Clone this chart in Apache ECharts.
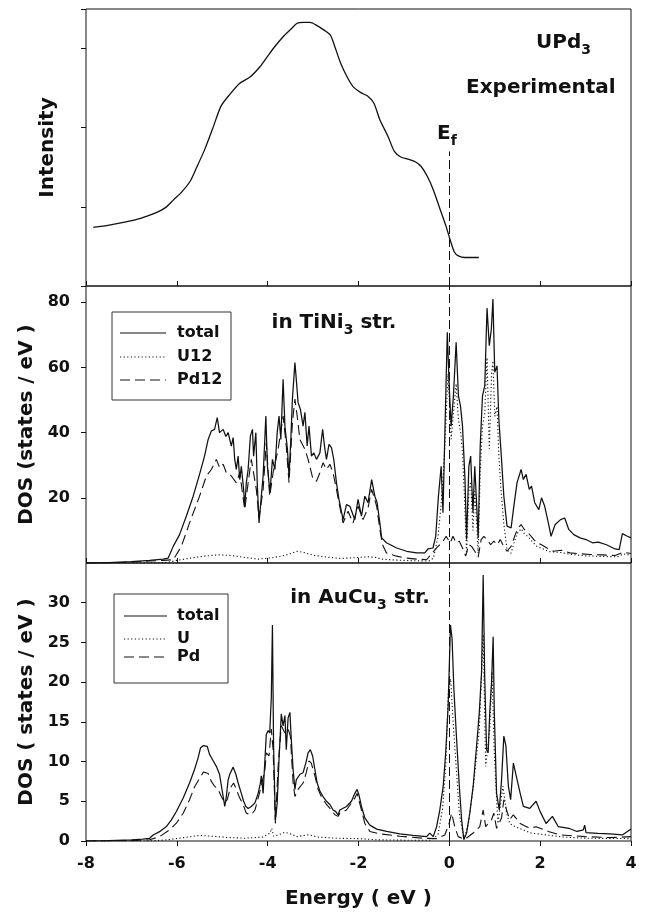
<!DOCTYPE html>
<html>
<head>
<meta charset="utf-8">
<script src="https://cdn.jsdelivr.net/npm/echarts@6/dist/echarts.min.js"></script>
<style>
  html, body { margin: 0; padding: 0; background: #fff; }
  #chart { width: 647px; height: 916px; }
</style>
</head>
<body>
<div id="chart"></div>
<script>
// photoemission spectrum, UPd3 (energy eV, intensity arb. units)
const expIntensity = [
  [-7.84, 0.74], [-7.49, 0.77], [-7.12, 0.81], [-6.8, 0.855], [-6.48, 0.92], [-6.25, 0.99],
  [-6.07, 1.09], [-5.89, 1.19], [-5.71, 1.32], [-5.57, 1.49], [-5.39, 1.72], [-5.21, 1.99],
  [-5.03, 2.27], [-4.85, 2.41], [-4.62, 2.56], [-4.39, 2.64], [-4.17, 2.77], [-3.98, 2.92],
  [-3.85, 3.02], [-3.66, 3.15], [-3.48, 3.25], [-3.35, 3.32], [-3.21, 3.33], [-3.07, 3.33],
  [-2.94, 3.30], [-2.75, 3.23], [-2.62, 3.17], [-2.53, 3.04], [-2.39, 2.81], [-2.25, 2.64],
  [-2.12, 2.52], [-1.94, 2.44], [-1.8, 2.40], [-1.66, 2.31], [-1.53, 2.10], [-1.35, 1.89],
  [-1.21, 1.70], [-1.07, 1.63], [-0.89, 1.60], [-0.75, 1.57], [-0.62, 1.51], [-0.48, 1.38],
  [-0.35, 1.21], [-0.21, 0.98], [-0.07, 0.75], [0.02, 0.58], [0.11, 0.43], [0.2, 0.38],
  [0.34, 0.36], [0.65, 0.36]
];

// DOS in TiNi3 structure
const tiTotal = [
  [-8, 0], [-7.5, 0.15], [-7, 0.4], [-6.6, 0.8], [-6.3, 1.2], [-6.19, 1.5], [-6.08, 5.1], [-5.94, 8.7],
  [-5.79, 14.4], [-5.64, 20.5], [-5.5, 27.2], [-5.39, 32.8], [-5.31, 37.9], [-5.24, 40.5], [-5.17, 41],
  [-5.11, 44.6], [-5.06, 40], [-4.98, 41], [-4.92, 38.8], [-4.87, 40], [-4.8, 35.9], [-4.76, 38.5],
  [-4.725, 31.8], [-4.69, 28.7], [-4.65, 32.8], [-4.615, 25.6], [-4.58, 29.7], [-4.53, 22.6], [-4.505, 17.4],
  [-4.47, 24.6], [-4.43, 28.7], [-4.38, 39], [-4.335, 41], [-4.31, 32.8], [-4.26, 40], [-4.23, 24.6],
  [-4.19, 12.3], [-4.14, 20.5], [-4.1, 26.7], [-4.04, 45.1], [-4.005, 29.7], [-3.95, 21.5], [-3.895, 31.8],
  [-3.84, 28.7], [-3.79, 40], [-3.75, 45.1], [-3.71, 37.9], [-3.66, 56.4], [-3.62, 42], [-3.565, 34.9],
  [-3.53, 26.7], [-3.49, 37.9], [-3.455, 50.3], [-3.4, 61.5], [-3.37, 56.4], [-3.33, 49.2], [-3.28, 47.2],
  [-3.22, 42], [-3.18, 46.2], [-3.13, 35.9], [-3.09, 42], [-3.035, 32.8], [-2.985, 33.8], [-2.925, 31.8],
  [-2.85, 33.8], [-2.79, 41], [-2.74, 34.9], [-2.705, 31.8], [-2.65, 36.4], [-2.595, 35.4], [-2.545, 31.8],
  [-2.485, 24.6], [-2.43, 19.5], [-2.34, 13.3], [-2.265, 17.9], [-2.19, 17.4], [-2.08, 13.3], [-2.01, 19.5],
  [-1.935, 14.4], [-1.86, 20.5], [-1.79, 18.5], [-1.71, 25.6], [-1.64, 20.5], [-1.59, 18.5], [-1.53, 12.3],
  [-1.49, 7.7], [-1.385, 6.2], [-1.16, 4.6], [-0.94, 3.6], [-0.72, 3.1], [-0.54, 3.1], [-0.47, 4.3],
  [-0.36, 4.6], [-0.3, 8.2], [-0.24, 20.5], [-0.18, 29.7], [-0.14, 15.4], [-0.07, 56.4], [-0.045, 70.8],
  [0, 53.3], [0.04, 42], [0.09, 51.3], [0.15, 67.7], [0.2, 51.3], [0.245, 48.2], [0.29, 42], [0.345, 25.6],
  [0.38, 7.2], [0.43, 29.7], [0.47, 32.8], [0.52, 15.4], [0.56, 29.7], [0.61, 15.4], [0.635, 7.7],
  [0.68, 35.9], [0.73, 51.3], [0.78, 54.4], [0.83, 78.2], [0.88, 66.7], [0.925, 71.8], [0.96, 81],
  [1, 58.5], [1.05, 60.5], [1.09, 44.1], [1.14, 33.8], [1.2, 20.5], [1.27, 11.3], [1.36, 10.8],
  [1.42, 17.4], [1.49, 24.6], [1.58, 28.7], [1.63, 25.6], [1.69, 27.2], [1.76, 22.6], [1.81, 23.6],
  [1.88, 18.5], [1.97, 16.4], [2.03, 20], [2.1, 17.4], [2.18, 12.3], [2.24, 8.2], [2.33, 11.8],
  [2.45, 13.3], [2.54, 13.8], [2.63, 10.3], [2.74, 8.7], [2.88, 7.7], [3.01, 7.2], [3.15, 6.2],
  [3.28, 6.4], [3.46, 5.6], [3.65, 4.3], [3.74, 4.1], [3.81, 9], [3.92, 8.2], [4, 7.7]
];
const tiU12 = [
  [-8, 0], [-6.5, 0], [-6.2, 0.2], [-6, 0.8], [-5.7, 1.5], [-5.4, 2.1], [-5.1, 2.5], [-4.8, 2.3],
  [-4.5, 1.7], [-4.2, 1.2], [-3.9, 1.6], [-3.6, 2.4], [-3.35, 3.6], [-3.2, 3.2], [-3, 2.4], [-2.7, 1.8],
  [-2.4, 1.4], [-2.1, 1.6], [-1.8, 1.9], [-1.6, 1.7], [-1.5, 1.2], [-1.2, 0.9], [-0.8, 0.7], [-0.45, 0.6],
  [-0.35, 1.5], [-0.25, 8], [-0.18, 18], [-0.12, 30], [-0.07, 45], [-0.03, 58], [0, 50], [0.04, 38],
  [0.09, 46], [0.15, 55], [0.2, 44], [0.25, 40], [0.29, 34], [0.34, 18], [0.38, 3], [0.43, 22],
  [0.47, 25], [0.52, 10], [0.56, 22], [0.61, 10], [0.635, 3], [0.68, 28], [0.73, 42], [0.78, 46],
  [0.83, 63], [0.88, 35], [0.93, 58], [0.96, 62], [1, 45], [1.05, 48], [1.09, 33], [1.14, 22],
  [1.2, 12], [1.27, 4], [1.36, 3], [1.42, 6], [1.49, 9], [1.58, 10.5], [1.65, 9], [1.74, 8],
  [1.83, 6.5], [1.92, 5.2], [2.03, 4.5], [2.2, 3.5], [2.45, 3.2], [2.7, 2.6], [3, 2.2], [3.4, 2],
  [3.7, 1.9], [3.83, 2.8], [4, 2.4]
];
const tiPd12 = [
  [-8, 0], [-7.5, 0.1], [-7, 0.3], [-6.6, 0.6], [-6.3, 0.8], [-6.08, 1.0], [-5.9, 5.1], [-5.72, 12.3],
  [-5.5, 20.5], [-5.35, 26.7], [-5.24, 28.7], [-5.13, 31.8], [-5.055, 29.2], [-4.98, 30.3], [-4.91, 27.7],
  [-4.8, 26.7], [-4.69, 24.6], [-4.615, 27.7], [-4.505, 16.4], [-4.43, 24.6], [-4.36, 31.8], [-4.25, 22.6],
  [-4.19, 13.8], [-4.1, 22.6], [-4.03, 36.9], [-3.955, 20.5], [-3.88, 27.7], [-3.77, 34.9], [-3.66, 45.1],
  [-3.59, 35.9], [-3.53, 24.6], [-3.455, 43.1], [-3.4, 50.3], [-3.35, 45.1], [-3.29, 37.9], [-3.18, 34.9],
  [-3.11, 31.8], [-3, 25.6], [-2.925, 25.1], [-2.85, 27.7], [-2.78, 30.8], [-2.705, 28.7], [-2.63, 30.3],
  [-2.56, 27.7], [-2.485, 22.6], [-2.43, 18.5], [-2.34, 12.3], [-2.23, 15.9], [-2.12, 12.3], [-2.01, 17.4],
  [-1.9, 13.3], [-1.79, 16.9], [-1.71, 22.6], [-1.6, 17.4], [-1.53, 10.3], [-1.47, 5.6], [-1.385, 3.1],
  [-1.16, 2.1], [-0.94, 1.5], [-0.72, 1.2], [-0.5, 1.0], [-0.345, 3.6], [-0.25, 5.1], [-0.16, 6.2],
  [-0.07, 8.2], [0.02, 6.2], [0.08, 8.2], [0.15, 6.2], [0.22, 6.7], [0.29, 4.6], [0.36, 2.1], [0.43, 5.6],
  [0.49, 5.1], [0.56, 3.6], [0.635, 1.8], [0.7, 7.2], [0.76, 8.2], [0.83, 7.2], [0.91, 5.6], [0.98, 6.7],
  [1.06, 5.6], [1.12, 7.2], [1.2, 5.1], [1.27, 3.6], [1.36, 5.1], [1.45, 8.7], [1.52, 10.8], [1.58, 11.8],
  [1.65, 10.3], [1.74, 9.2], [1.83, 7.7], [1.92, 6.2], [2.03, 5.6], [2.15, 4.6], [2.29, 3.6], [2.47, 3.9],
  [2.65, 3.1], [2.83, 2.9], [3.1, 2.6], [3.37, 2.5], [3.65, 2.3], [3.83, 3.3], [4, 2.9]
];

// DOS in AuCu3 structure
const auTotal = [
  [-8, 0], [-7.5, 0.05], [-7, 0.15], [-6.75, 0.25], [-6.6, 0.34], [-6.52, 0.76], [-6.38, 1.18], [-6.23, 1.82],
  [-6.12, 2.66], [-6.01, 3.72], [-5.86, 5.41], [-5.72, 7.31], [-5.61, 9.0], [-5.53, 10.5], [-5.48, 11.7],
  [-5.42, 12.0], [-5.33, 11.9], [-5.28, 10.9], [-5.2, 10.1], [-5.13, 9.4], [-5.06, 8.4], [-4.98, 5.6],
  [-4.945, 4.35], [-4.91, 5.6], [-4.87, 7.7], [-4.835, 8.4], [-4.76, 9.3], [-4.7, 8.4], [-4.65, 7.3],
  [-4.58, 6.0], [-4.53, 5.0], [-4.48, 4.35], [-4.43, 4.1], [-4.36, 4.35], [-4.28, 4.8], [-4.21, 6.0],
  [-4.16, 7.3], [-4.14, 8.2], [-4.1, 6.0], [-4.06, 10.3], [-4.03, 13.4], [-3.99, 13.9], [-3.955, 13.6],
  [-3.92, 18], [-3.895, 27.2], [-3.87, 12], [-3.83, 2.6], [-3.79, 4.8], [-3.75, 10.3], [-3.7, 16.0],
  [-3.66, 14.5], [-3.62, 15.8], [-3.59, 11.5], [-3.55, 15.5], [-3.51, 16.2], [-3.48, 12.8], [-3.44, 9.0],
  [-3.4, 6.5], [-3.37, 7.7], [-3.29, 8.4], [-3.22, 8.6], [-3.16, 9.8], [-3.11, 11.1], [-3.06, 11.5],
  [-3.01, 10.7], [-2.96, 9.0], [-2.91, 7.3], [-2.85, 6.3], [-2.78, 5.6], [-2.705, 5.0], [-2.63, 4.6],
  [-2.56, 3.9], [-2.5, 3.7], [-2.45, 3.3], [-2.41, 3.9], [-2.265, 4.35], [-2.155, 5.0], [-2.08, 6.0],
  [-2.03, 6.5], [-1.99, 5.8], [-1.935, 4.35], [-1.86, 2.9], [-1.75, 2.0], [-1.6, 1.5], [-1.38, 1.2],
  [-1.09, 0.9], [-0.8, 0.7], [-0.5, 0.55], [-0.43, 1.0], [-0.355, 0.55], [-0.28, 1.8], [-0.21, 3.9],
  [-0.135, 6.9], [-0.08, 11.1], [-0.026, 17.0], [0.025, 27.2], [0.06, 25.5], [0.1, 19.1], [0.16, 12.8],
  [0.22, 6.9], [0.27, 2.7], [0.32, 0.2], [0.38, 1.0], [0.45, 3.5], [0.525, 6.9], [0.6, 12.0], [0.66, 16.2],
  [0.71, 21.3], [0.745, 33.5], [0.78, 20.4], [0.82, 11.5], [0.855, 11.1], [0.89, 16.2], [0.93, 20.0],
  [0.965, 25.7], [0.99, 16.2], [1.04, 6.0], [1.1, 3.9], [1.15, 7.7], [1.2, 13.2], [1.245, 12.0], [1.3, 6.9],
  [1.35, 5.2], [1.41, 9.8], [1.45, 9.6], [1.56, 6.0], [1.63, 4.35], [1.77, 4.1], [1.91, 5.0], [2.0, 3.7],
  [2.13, 2.2], [2.27, 3.1], [2.4, 1.8], [2.63, 1.6], [2.81, 1.2], [2.95, 1.4], [2.98, 2.0], [3.01, 1.05],
  [3.27, 0.97], [3.54, 0.9], [3.81, 0.76], [4, 1.5]
];
const auU = [
  [-8, 0], [-6.6, 0], [-6.2, 0.15], [-5.9, 0.4], [-5.5, 0.7], [-5.2, 0.6], [-4.9, 0.45], [-4.5, 0.35],
  [-4.1, 0.5], [-3.95, 1.0], [-3.91, 1.6], [-3.87, 0.6], [-3.75, 0.8], [-3.62, 1.1], [-3.5, 0.9],
  [-3.35, 0.55], [-3.1, 0.8], [-2.9, 0.5], [-2.5, 0.35], [-2, 0.3], [-1.6, 0.15], [-1, 0.1], [-0.4, 0.1],
  [-0.25, 0.8], [-0.15, 4], [-0.08, 9.4], [-0.02, 19], [0.03, 20.4], [0.08, 15.3], [0.15, 9.4], [0.22, 3.5],
  [0.32, 0.2], [0.42, 2.2], [0.53, 6.9], [0.66, 14], [0.745, 26], [0.8, 9.4], [0.89, 14], [0.94, 21.3],
  [0.99, 11], [1.07, 2.2], [1.18, 6.9], [1.26, 3.5], [1.33, 2.2], [1.45, 1.8], [1.8, 1.0], [2.5, 0.5],
  [3, 0.35], [4, 0.3]
];
const auPd = [
  [-8, 0], [-7, 0.05], [-6.6, 0.15], [-6.38, 0.55], [-6.16, 1.4], [-6.01, 2.24], [-5.86, 3.5], [-5.72, 5.2],
  [-5.61, 6.8], [-5.5, 7.9], [-5.41, 8.7], [-5.31, 8.5], [-5.24, 7.5], [-5.17, 6.9], [-5.09, 6.5],
  [-5.02, 5.6], [-4.945, 4.8], [-4.89, 5.2], [-4.82, 6.7], [-4.75, 7.3], [-4.69, 6.5], [-4.615, 5.4],
  [-4.54, 4.6], [-4.47, 3.5], [-4.36, 3.3], [-4.28, 3.9], [-4.21, 5.4], [-4.14, 6.9], [-4.06, 9.0],
  [-4.03, 11.1], [-3.97, 10.7], [-3.92, 14.1], [-3.88, 11.5], [-3.83, 2.2], [-3.77, 9.4], [-3.7, 14.5],
  [-3.62, 13.6], [-3.55, 14.1], [-3.5, 13.2], [-3.44, 7.3], [-3.4, 5.6], [-3.33, 6.5], [-3.22, 7.3],
  [-3.15, 8.6], [-3.09, 10.1], [-3.04, 9.8], [-2.96, 8.2], [-2.89, 6.5], [-2.82, 5.6], [-2.705, 4.6],
  [-2.595, 3.9], [-2.52, 3.3], [-2.45, 3.1], [-2.41, 3.5], [-2.265, 3.9], [-2.08, 5.4], [-2.03, 6.0],
  [-1.935, 3.9], [-1.86, 2.2], [-1.75, 1.2], [-1.53, 0.9], [-1.09, 0.6], [-0.58, 0.35], [-0.28, 0.3],
  [-0.1, 0.76], [-0.005, 2.2], [0.05, 3.5], [0.12, 1.8], [0.195, 0.55], [0.34, 0.2], [0.525, 1.0],
  [0.67, 1.8], [0.745, 3.9], [0.8, 1.8], [0.855, 2.2], [0.93, 2.7], [0.98, 3.5], [1.04, 1.6], [1.15, 2.9],
  [1.2, 5.2], [1.26, 3.9], [1.33, 2.7], [1.41, 3.3], [1.56, 2.2], [1.77, 1.6], [1.91, 1.8], [2.18, 1.2],
  [2.45, 0.76], [2.99, 0.55], [3.54, 0.42], [4, 0.55]
];

const energyTicks = [-8, 4, 2];      // min, max, step
const intensityRange = [0, 3.5, 1];
const tiRange = [0, 85, 20];
const auRange = [0, 35, 5];

const INK = '#111';
const FONT = 'DejaVu Sans';
const DASH = [10, 5];
const DOT = [1.2, 2.4];
const EF_DASH = [9, 4];

const chart = echarts.init(document.getElementById('chart'), null, { renderer: 'canvas' });

const panels = [
  { top: 9, height: 277 },
  { top: 286, height: 277 },
  { top: 563, height: 278 }
];

const grids = panels.map(p => ({
  left: 86, width: 545, top: p.top, height: p.height,
  show: true, borderColor: INK, borderWidth: 1, backgroundColor: 'transparent'
}));

const nameStyle = { fontFamily: FONT, fontWeight: 'bold', fontSize: 20, color: INK };
const labelStyle = { fontFamily: FONT, fontWeight: 'bold', fontSize: 16, color: INK };

const xAxes = panels.map((p, i) => ({
  type: 'value', gridIndex: i,
  min: energyTicks[0], max: energyTicks[1], interval: energyTicks[2],
  axisLine: { show: false, onZero: false },
  axisTick: { show: true, inside: i < 2, length: 5, lineStyle: { color: INK } },
  axisLabel: Object.assign({ show: i === 2, margin: 15 }, labelStyle),
  splitLine: { show: false },
  name: i === 2 ? 'Energy ( eV )' : '',
  nameLocation: 'middle', nameGap: 48, nameTextStyle: nameStyle
}));

function yAxis(i, range, name, showLabels, gap) {
  return {
    type: 'value', gridIndex: i, min: range[0], max: range[1], interval: range[2],
    axisLine: { show: false, onZero: false },
    axisTick: { show: true, length: 5, lineStyle: { color: INK } },
    axisLabel: Object.assign({ show: showLabels, margin: 16, showMaxLabel: false, showMinLabel: i !== 1 }, labelStyle),
    splitLine: { show: false },
    name: name, nameLocation: 'middle', nameRotate: 90, nameGap: gap, nameTextStyle: nameStyle
  };
}

const yAxes = [
  yAxis(0, intensityRange, 'Intensity', false, 28),
  yAxis(1, tiRange, 'DOS (states / eV )', true, 45),
  yAxis(2, auRange, 'DOS ( states / eV )', true, 45)
];

function line(name, data, idx, dash, width) {
  return {
    name: name, type: 'line', data: data, xAxisIndex: idx, yAxisIndex: idx,
    symbol: 'none', animation: false, silent: true,
    lineStyle: { color: INK, width: width, type: dash }
  };
}

const efLine = {
  silent: true, symbol: ['none', 'none'], animation: false,
  label: { show: false },
  lineStyle: { color: INK, width: 1, type: EF_DASH }
};

const expSeries = line('experimental', expIntensity, 0, 'solid', 1.3);
expSeries.smooth = 0.25;
expSeries.markLine = Object.assign({ data: [[{ coord: [0, 0] }, { coord: [0, 1.7] }]] }, efLine);

const tiTotalSeries = line('total', tiTotal, 1, 'solid', 1.25);
tiTotalSeries.markLine = Object.assign({ data: [{ xAxis: 0 }] }, efLine);
const auTotalSeries = line('total ', auTotal, 2, 'solid', 1.25);
auTotalSeries.markLine = Object.assign({ data: [{ xAxis: 0 }] }, efLine);

const series = [
  expSeries,
  tiTotalSeries,
  line('U12', tiU12, 1, DOT, 1.1),
  line('Pd12', tiPd12, 1, DASH, 1.1),
  auTotalSeries,
  line('U', auU, 2, DOT, 1.1),
  line('Pd', auPd, 2, DASH, 1.1)
];

// text helpers for annotations and the boxed keys
const big = { fontFamily: FONT, fontWeight: 'bold', fontSize: 20, lineHeight: 28, verticalAlign: 'middle', fill: INK, color: INK };
const sub = { fontFamily: FONT, fontWeight: 'bold', fontSize: 14, lineHeight: 14, verticalAlign: 'bottom', fill: INK, color: INK };

function richText(x, y, text, align) {
  return {
    type: 'text', x: x, y: y, silent: true,
    style: {
      text: text, rich: { m: big, s: sub },
      align: align, textAlign: align, verticalAlign: 'middle', textVerticalAlign: 'middle'
    }
  };
}

function keyBox(x, y, w, h, rows) {
  const els = [{
    type: 'rect', silent: true, shape: { x: x, y: y, width: w, height: h },
    style: { fill: '#fff', stroke: '#333', lineWidth: 1 }
  }];
  rows.forEach(r => {
    els.push({
      type: 'line', silent: true,
      shape: { x1: r.x1, y1: r.y, x2: r.x2, y2: r.y },
      style: { stroke: INK, lineWidth: r.w, lineDash: r.dash }
    });
    els.push({
      type: 'text', silent: true, x: 177, y: r.y,
      style: {
        text: r.label, font: 'bold 16px "DejaVu Sans"', fill: INK,
        align: 'left', textAlign: 'left', verticalAlign: 'middle', textVerticalAlign: 'middle'
      }
    });
  });
  return els;
}

const graphic = [].concat(
  [
    richText(536, 43, '{m|UPd}{s|3}', 'left'),
    richText(466, 88, '{m|Experimental}', 'left'),
    richText(437, 134, '{m|E}{s|f}', 'left'),
    richText(334, 323, '{m|in TiNi}{s|3}{m| str.}', 'center'),
    richText(360, 598, '{m|in AuCu}{s|3}{m| str.}', 'center')
  ],
  keyBox(112, 312, 119, 88, [
    { label: 'total', y: 333, x1: 120, x2: 166, w: 1.2, dash: null },
    { label: 'U12', y: 357, x1: 120, x2: 166, w: 1, dash: DOT },
    { label: 'Pd12', y: 380, x1: 120, x2: 166, w: 1, dash: DASH }
  ]),
  keyBox(114, 594, 114, 89, [
    { label: 'total', y: 616, x1: 124, x2: 167, w: 1.2, dash: null },
    { label: 'U', y: 639, x1: 124, x2: 167, w: 1, dash: DOT },
    { label: 'Pd', y: 657, x1: 124, x2: 167, w: 1, dash: DASH }
  ])
);

chart.setOption({
  backgroundColor: '#fff',
  animation: false,
  grid: grids,
  xAxis: xAxes,
  yAxis: yAxes,
  series: series,
  graphic: graphic
});
</script>
</body>
</html>
